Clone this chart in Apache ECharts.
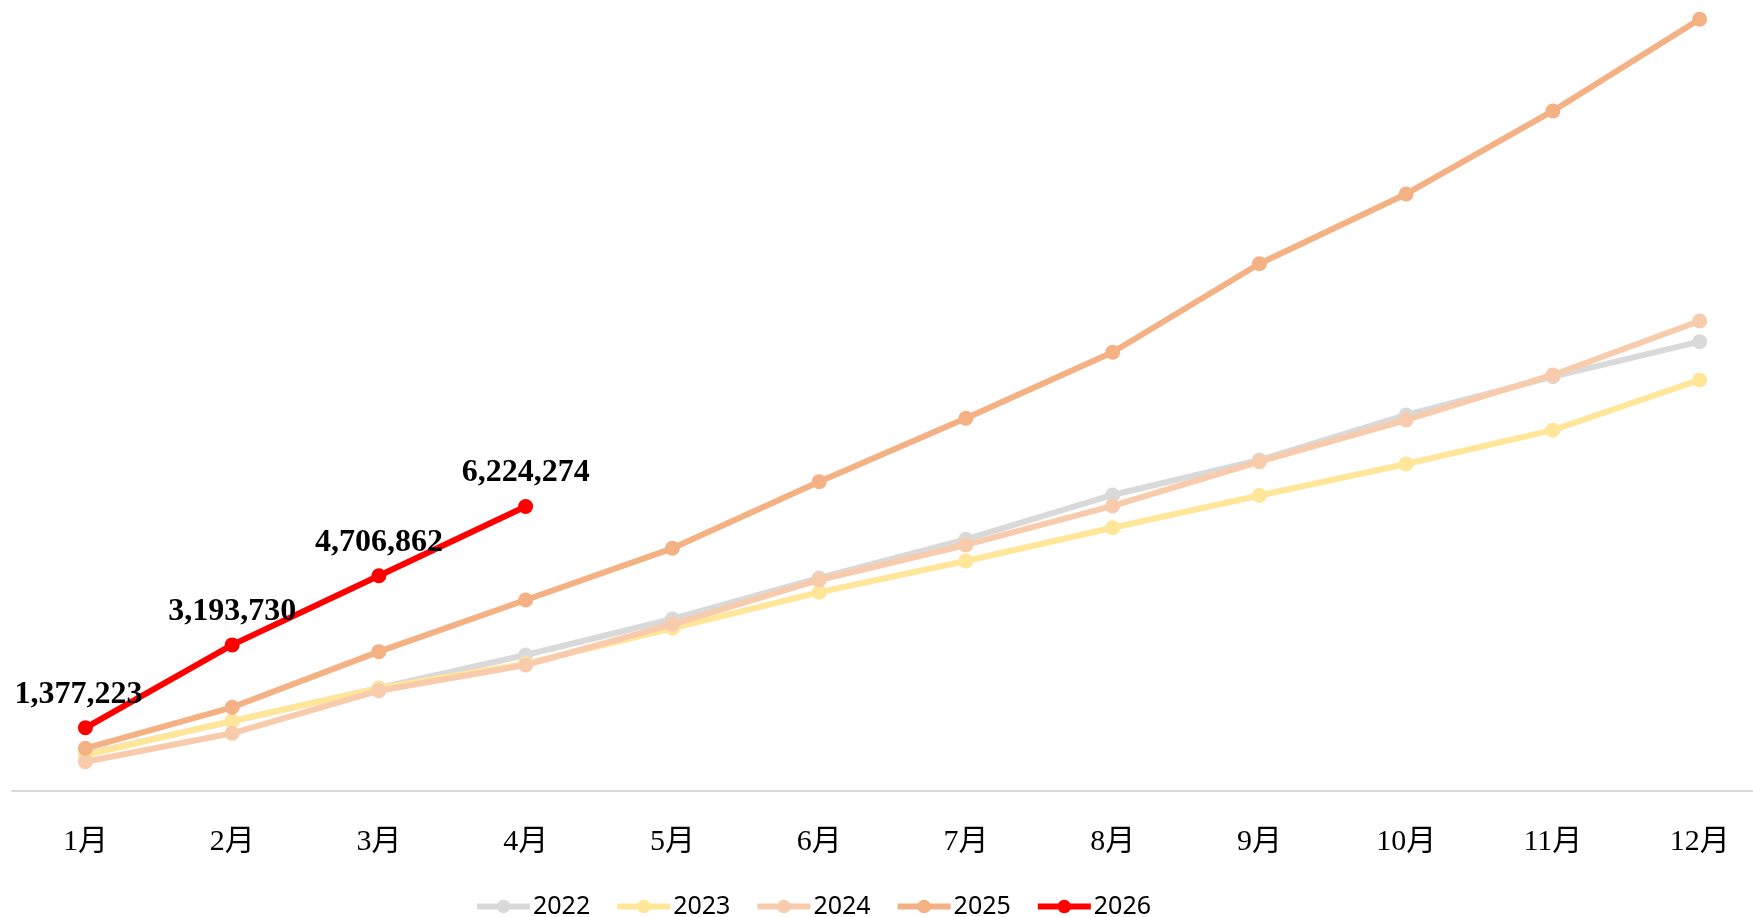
<!DOCTYPE html>
<html>
<head>
<meta charset="utf-8">
<title>累计趋势</title>
<script src="https://cdn.jsdelivr.net/npm/echarts@6/dist/echarts.min.js"></script>
<style>
  html, body { margin: 0; padding: 0; background: #fff; }
  #chart { width: 1753px; height: 917px; }
</style>
</head>
<body>
<div id="chart"></div>
<script>
// categories
const months = ['1月', '2月', '3月', '4月', '5月', '6月', '7月', '8月', '9月', '10月', '11月', '12月'];
const years = ['2022', '2023', '2024', '2025', '2026'];

// cumulative values per year
const data2022 = [800000, 1520000, 2250000, 2972000, 3761000, 4659000, 5506000, 6477000, 7243000, 8229000, 9068000, 9834000];
const data2023 = [782000, 1527000, 2243000, 2780000, 3557000, 4346000, 5031000, 5760000, 6466000, 7156000, 7896000, 8996000];
const data2024 = [635000, 1257000, 2190000, 2753000, 3645000, 4615000, 5382000, 6236000, 7206000, 8119000, 9105000, 10288000];
const data2025 = [929000, 1827000, 3045000, 4177000, 5309000, 6768000, 8157000, 9602000, 11541000, 13070000, 14888000, 16896000];
const data2026 = [1377223, 3193730, 4706862, 6224274];

const colors = ['#d9d9d9', '#ffe699', '#f8cbad', '#f4b183', '#ff0000'];
const seriesData = [data2022, data2023, data2024, data2025, data2026];

const chart = echarts.init(document.getElementById('chart'));

const series = years.map(function (name, i) {
    const s = {
        name: name,
        type: 'line',
        data: seriesData[i],
        symbol: 'circle',
        symbolSize: 15,
        color: colors[i],
        lineStyle: { width: 6, color: colors[i] },
        itemStyle: { color: colors[i] },
        emphasis: { disabled: true },
        z: 2 + i
    };
    if (name === '2026') {
        s.label = {
            show: true,
            position: 'top',
            distance: 10,
            color: '#000',
            fontFamily: '"Liberation Serif", "Times New Roman", serif',
            fontWeight: 'bold',
            fontSize: 32,
            formatter: function (p) { return p.value.toLocaleString('en-US'); }
        };
        // first label was nudged left in the original
        s.data = seriesData[i].map(function (v, j) {
            return j === 0 ? { value: v, label: { offset: [-7, 0] } } : v;
        });
    }
    return s;
});

chart.setOption({
    backgroundColor: '#fff',
    animation: false,
    grid: {
        left: 12,
        top: 14.5,
        width: 1761,
        bottom: 126.3,
        containLabel: false,
        outerBoundsMode: 'none'
    },
    legend: {
        data: years,
        left: 474,
        top: 894,
        padding: 0,
        itemWidth: 53,
        itemHeight: 17,
        itemGap: 24,
        lineStyle: { width: 6 },
        textStyle: {
            fontFamily: '"Noto Sans", sans-serif',
            fontSize: 25,
            color: '#000',
            padding: [0, 0, 0, -2]
        }
    },
    xAxis: {
        type: 'category',
        data: months,
        boundaryGap: true,
        axisLine: { lineStyle: { color: '#d9d9d9', width: 2 } },
        axisTick: { show: false },
        axisLabel: {
            margin: 36,
            fontSize: 30,
            color: '#000',
            fontFamily: '"Liberation Serif", "Noto Sans CJK SC", serif'
        }
    },
    yAxis: {
        type: 'value',
        min: 0,
        max: 17000000,
        show: false,
        splitLine: { show: false }
    },
    series: series
});
</script>
</body>
</html>
